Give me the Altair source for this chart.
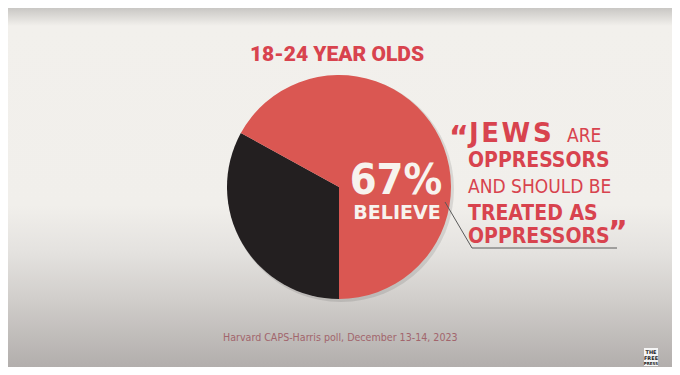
import math
import altair as alt
import pandas as pd

# ---- data ----
segments = ["Do not believe", "Believe"]
shares = [33, 67]
seg_colors = ["#231f20", "#da5752"]

title_text = "18-24 YEAR OLDS"
pct_text = "67%"
believe_text = "BELIEVE"
source_text = "Harvard CAPS-Harris poll, December 13-14, 2023"

W, H = 664, 359
RED = "#d8434e"
NARROW = "DejaVu Sans Condensed, Liberation Sans Narrow, sans-serif"
WIDE = "DejaVu Sans, Verdana, sans-serif"

pie_df = pd.DataFrame({"seg": segments, "share": shares, "idx": list(range(len(segments)))})
one = pd.DataFrame({"a": [0]})

bg = alt.Chart(one).mark_rect(
    fill=alt.Gradient(
        gradient="linear", x1=0, x2=0, y1=0, y2=1,
        stops=[
            alt.GradientStop(color="#c9c7c4", offset=0),
            alt.GradientStop(color="#f2f0ec", offset=0.05),
            alt.GradientStop(color="#f1efeb", offset=0.55),
            alt.GradientStop(color="#e4e2df", offset=0.68),
            alt.GradientStop(color="#d1cecb", offset=0.81),
            alt.GradientStop(color="#b2aeac", offset=1),
        ],
    )
).encode(x=alt.value(0), x2=alt.value(W), y=alt.value(0), y2=alt.value(H))

cx, cy, R = 331, 179, 112

shadow = alt.Chart(one).mark_arc(radius=R + 1, color="#000000", opacity=0.10).encode(
    theta=alt.value(2 * math.pi), x=alt.value(cx + 2), y=alt.value(cy + 2)
)

pie = alt.Chart(pie_df).mark_arc(radius=R).encode(
    theta=alt.Theta("share:Q", stack=True, scale=alt.Scale(range=[math.pi, 3 * math.pi])),
    color=alt.Color("seg:N", scale=alt.Scale(domain=segments, range=seg_colors), legend=None),
    order=alt.Order("idx:Q"),
    x=alt.value(cx),
    y=alt.value(cy),
)


def txt(text, x, y, size, font, weight="bold", color=RED, align="left", baseline="alphabetic"):
    return alt.Chart(pd.DataFrame({"t": [text]})).mark_text(
        font=font, fontSize=size, fontWeight=weight, color=color,
        align=align, baseline=baseline,
    ).encode(text="t:N", x=alt.value(x), y=alt.value(y))


hair = "\u200a"
texts = [
    txt(title_text, 329, 53, 21, "Roboto", weight=900, align="center"),
    txt(pct_text, 388, 186, 43, NARROW, color="#f7f3ee", align="center"),
    txt(believe_text, 389, 211, 19, WIDE, color="#f7f3ee", align="center"),
    # quote block
    txt("\u201c", 441, 139, 30, WIDE, weight="bold"),
    txt(hair.join("JEWS"), 461, 134, 26, WIDE),
    txt("ARE", 559, 134, 19, NARROW, weight="normal"),
    txt("OPPRESSORS", 460, 159, 21, NARROW),
    txt("AND SHOULD BE", 460, 185, 19, NARROW, weight="normal"),
    txt("TREATED AS", 460, 212, 21, NARROW),
    txt("OPPRESSORS", 460, 235, 21, NARROW),
    txt("\u201d", 600, 234, 30, WIDE, weight="bold"),
    txt(source_text, 215, 333, 10.6, NARROW, weight="normal", color="#a2656c"),
]

lead1 = alt.Chart(one).mark_rule(color="#5a5a5a", strokeWidth=1).encode(
    x=alt.value(437), y=alt.value(194), x2=alt.value(464), y2=alt.value(240)
)
lead2 = alt.Chart(one).mark_rule(color="#5a5a5a", strokeWidth=1).encode(
    x=alt.value(464), y=alt.value(240), x2=alt.value(609), y2=alt.value(240)
)

logo_box = alt.Chart(one).mark_rect(fill="#f5f5f5").encode(
    x=alt.value(636), x2=alt.value(650), y=alt.value(340), y2=alt.value(358)
)
logo_lines = [
    txt("THE", 643, 346, 5, "DejaVu Sans", color="#222222", align="center"),
    txt("FREE", 643, 351.5, 5, "DejaVu Sans", color="#222222", align="center"),
    txt("PRESS", 643, 357, 4, "DejaVu Sans", color="#222222", align="center"),
]

chart = alt.layer(bg, shadow, pie, lead1, lead2, *texts, logo_box, *logo_lines).properties(
    width=W, height=H, autosize="none", padding=0, background="#f2f0ec"
).configure_view(stroke=None)

chart.save("out.html", embed_options={"renderer": "svg", "actions": False})
